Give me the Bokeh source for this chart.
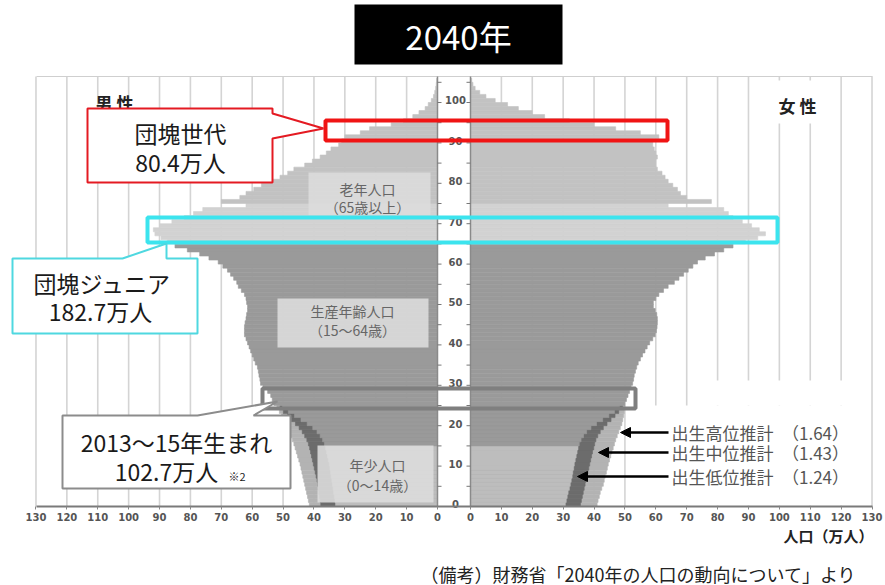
from bokeh.plotting import figure
from bokeh.models import Range1d, FixedTicker, LinearAxis, Arrow, NormalHead, ColumnDataSource
from bokeh.core.properties import value
from bokeh.embed import file_html
from bokeh.resources import INLINE

JP = "Noto Sans CJK JP"

# ---------------- data (万人) ----------------
ages_main = list(range(25, 106))
male_main = [53.0, 53.5, 54.0, 55.0, 56.5, 57.3, 57.5, 57.8, 58.0, 58.3,
             59.0, 59.5, 60.0, 60.5, 61.0, 61.5, 62.0, 62.5, 62.5, 62.5,
             62.3, 62.0, 61.8, 61.5, 61.5, 61.8, 62.0, 62.5, 63.5, 64.5,
             65.0, 66.0, 67.0, 68.0, 69.5, 71.0, 74.0, 77.0, 81.0, 85.0,
             87.5, 89.5, 91.5, 92.0, 90.0, 86.0, 82.0, 79.0, 76.0, 62.0,
             70.0, 64.0, 62.0, 59.5, 57.0, 54.0, 51.0, 48.5, 46.5, 43.0,
             40.5, 38.0, 36.0, 34.5, 32.0, 31.0, 30.0, 25.0, 22.0, 15.0,
             11.0, 8.0, 6.0, 4.0, 3.0, 2.0, 1.3, 0.9, 0.6, 0.4, 0.3]
female_main = [50.0, 50.5, 51.0, 51.5, 52.0, 52.5, 52.8, 53.0, 53.4, 53.8,
               54.3, 55.0, 55.7, 56.5, 57.2, 58.0, 59.0, 59.8, 60.2, 60.4,
               60.5, 60.5, 60.3, 59.8, 59.2, 59.2, 60.0, 61.0, 62.5, 64.0,
               66.0, 67.5, 69.0, 70.5, 72.0, 73.5, 76.0, 79.0, 82.0, 85.0,
               89.0, 93.0, 95.5, 93.5, 91.0, 88.0, 85.0, 83.5, 82.0, 64.0,
               78.0, 70.0, 68.0, 67.0, 65.5, 64.0, 63.0, 62.0, 60.5, 60.0,
               60.0, 60.5, 60.0, 59.5, 59.0, 59.0, 61.0, 55.0, 47.0, 40.0,
               32.0, 24.0, 20.0, 15.5, 12.0, 8.0, 5.0, 3.0, 1.5, 0.8, 0.4]

ages_young = list(range(0, 25))
male_low = [33.0, 33.2, 33.4, 33.6, 33.8, 34.0, 34.2, 34.4, 34.6, 34.8,
            35.0, 35.3, 35.6, 35.9, 36.2, 36.6, 37.2, 38.0, 39.0, 40.4,
            42.2, 44.2, 46.3, 48.3, 50.2]
male_mid = [37.8, 38.0, 38.2, 38.4, 38.6, 38.8, 39.0, 39.3, 39.6, 39.9,
            40.2, 40.5, 40.8, 41.1, 41.4, 41.8, 42.3, 43.0, 43.8, 44.8,
            46.0, 47.3, 48.6, 49.9, 51.0]
male_high = [41.5, 41.8, 42.1, 42.4, 42.7, 43.0, 43.3, 43.6, 43.9, 44.2,
             44.5, 44.9, 45.3, 45.7, 46.1, 46.5, 47.0, 47.5, 48.0, 48.6,
             49.2, 49.8, 50.5, 51.2, 52.0]
female_low = [30.7, 31.0, 31.3, 31.6, 32.0, 32.3, 32.6, 32.9, 33.1, 33.4,
              33.6, 33.9, 34.2, 34.5, 34.8, 35.2, 35.8, 36.6, 37.6, 39.0,
              40.8, 42.8, 44.8, 46.6, 48.2]
female_mid = [35.6, 35.9, 36.2, 36.5, 36.8, 37.1, 37.4, 37.7, 38.0, 38.3,
              38.6, 38.9, 39.2, 39.5, 39.9, 40.2, 40.6, 41.2, 42.0, 43.0,
              44.2, 45.5, 46.8, 48.0, 49.2]
female_high = [41.0, 41.3, 41.7, 42.0, 42.5, 43.0, 43.3, 43.6, 44.0, 44.3,
               44.6, 45.0, 45.4, 45.8, 46.2, 46.6, 47.0, 47.5, 48.0, 48.5,
               49.0, 49.3, 49.6, 49.8, 50.0]

x_tick_values = [0, 10, 20, 30, 40, 50, 60, 70, 80, 90, 100, 110, 120, 130]
age_tick_labels = [0, 10, 20, 30, 40, 50, 60, 70, 80, 90, 100]
scenario_names = ["出生高位推計　（1.64）", "出生中位推計　（1.43）", "出生低位推計　（1.24）"]

# ---------------- geometry helpers ----------------
S = 3.0886          # px per 万人
T = 4.04            # px per year of age
G = 16.5 / S        # half gap of centre strip (data units)


def X(ix):  # picture px -> data x (annotation placement only)
    return (ix - 453.5) / S


def Y(iy):  # picture px -> data y (annotation placement only)
    return (506 - iy) / T


p = figure(width=885, height=585,
           x_range=Range1d(X(0), X(885)), y_range=Range1d(Y(585), Y(0)),
           min_border=0, min_border_left=0, min_border_right=0, min_border_top=0, min_border_bottom=0,
           toolbar_location=None, output_backend="svg",
           x_axis_location=None, y_axis_location=None,
           outline_line_color=None, background_fill_color="white", border_fill_color="white")
p.grid.visible = False

top_age = Y(76)

# grid lines
gx = []
for v in x_tick_values[1:]:
    gx += [-(G + v), G + v]
p.segment(x0=gx, y0=[0] * len(gx), x1=gx, y1=[top_age] * len(gx), line_color="#d4d4d4", line_width=1.6)
p.segment(x0=[X(36)], y0=[top_age], x1=[X(872)], y1=[top_age], line_color="#cfcfcf", line_width=1.2)

# white areas hiding grid behind texts
p.quad(left=[X(640), X(690), X(762)], right=[X(870), X(870), X(828)],
       bottom=[Y(505), Y(405), Y(123)], top=[Y(405), Y(380), Y(80)],
       fill_color="white", line_color=None)


# ---------------- bars ----------------
def base_color(a):
    if a < 15:
        return "#bdbdbd"
    if a < 65:
        return "#9a9a9a"
    if a < 75:
        return "#d2d2d2"
    return "#c2c2c2"


def bars(ages, mvals, fvals, colors):
    L, R, B, Tp, C = [], [], [], [], []
    for a, m, f, c in zip(ages, mvals, fvals, colors):
        L += [-(G + m), G]
        R += [-G, G + f]
        B += [a, a]
        Tp += [a + 1, a + 1]
        C += [c, c]
    src = ColumnDataSource(dict(left=L, right=R, bottom=B, top=Tp, color=C))
    p.quad(left="left", right="right", bottom="bottom", top="top", fill_color="color",
           line_color="color", line_width=0.6, source=src)


bars(ages_young, male_high, female_high, ["#b3b3b3"] * len(ages_young))
bars(ages_young, male_mid, female_mid, ["#6c6c6c"] * len(ages_young))
bars(ages_young, male_low, female_low, [base_color(a) for a in ages_young])
bars(ages_main, male_main, female_main, [base_color(a) for a in ages_main])

# centre strip
p.segment(x0=[-G, G], y0=[0, 0], x1=[-G, G], y1=[top_age, top_age], line_color="#8a8a8a", line_width=1.5)
tk = list(range(0, 106, 5))
p.segment(x0=[-G] * len(tk), y0=tk, x1=[-G + 4 / S] * len(tk), y1=tk, line_color="#777", line_width=1)
p.segment(x0=[G - 4 / S] * len(tk), y0=tk, x1=[G] * len(tk), y1=tk, line_color="#777", line_width=1)
p.text(x=[X(455)] * len(age_tick_labels), y=[a + 0.5 for a in age_tick_labels],
       text=[str(a) for a in age_tick_labels], text_font=value("DejaVu Sans"),
       text_font_size="10px", text_font_style="bold", text_color="#555",
       text_align="center", text_baseline="middle")

# axis line
p.segment(x0=[X(36)], y0=[0], x1=[X(872)], y1=[0], line_color="#7a7a7a", line_width=2)

# region label boxes
p.quad(left=[X(308), X(277), X(317)], right=[X(430), X(428), X(433)],
       bottom=[Y(215), Y(347), Y(502)], top=[Y(172), Y(298), Y(445)],
       fill_color="#dcdcdc", fill_alpha=0.9, line_color=None)
p.text(x=[X(367), X(367), X(352), X(352), X(377), X(377)],
       y=[Y(188), Y(206), Y(310), Y(329), Y(464), Y(484)],
       text=["老年人口", "（65歳以上）", "生産年齢人口", "（15〜64歳）", "年少人口", "（0〜14歳）"],
       text_font=value(JP), text_font_size="14px", text_color="#666",
       text_align="center", text_baseline="middle")

# 男性 / 女性
p.text(x=[X(114), X(797)], y=[Y(102), Y(105)], text=["男 性", "女 性"], text_font=value(JP),
       text_font_size="17px", text_font_style="bold", text_color="#222",
       text_align="center", text_baseline="middle")

# highlight boxes
p.quad(left=[X(325)], right=[X(667)], bottom=[Y(140)], top=[Y(120)], fill_alpha=0,
       line_color="#f01414", line_width=4)
p.quad(left=[X(147)], right=[X(777)], bottom=[Y(242)], top=[Y(217)], fill_alpha=0,
       line_color="#3ce4ee", line_width=4)
p.quad(left=[X(262)], right=[X(635)], bottom=[Y(408)], top=[Y(388)], fill_alpha=0,
       line_color="#7f7f7f", line_width=4)


# callouts
def callout(pts, color):
    p.patch(x=[X(a) for a, b in pts], y=[Y(b) for a, b in pts], fill_color="white",
            line_color=color, line_width=2)


callout([(87, 108), (272, 108), (272, 113), (323, 128), (272, 138), (272, 182), (87, 182)], "#e41a22")
callout([(12, 258), (122, 258), (166, 243), (166, 258), (197, 258), (197, 333), (12, 333)], "#4fd8e0")
callout([(62, 415), (197, 415), (277, 401), (253, 415), (290, 415), (290, 488), (62, 488)], "#8c8c8c")

p.text(x=[X(180), X(180), X(102), X(100), X(176), X(166)],
       y=[Y(132), Y(161), Y(282), Y(310), Y(441), Y(470)],
       text=["団塊世代", "80.4万人", "団塊ジュニア", "182.7万人", "2013〜15年生まれ", "102.7万人"],
       text_font=value(JP), text_font_size="23px", text_color="#1a1a1a",
       text_align="center", text_baseline="middle")
p.text(x=[X(228)], y=[Y(475)], text=["※2"], text_font=value(JP), text_font_size="11px",
       text_color="#1a1a1a", text_align="left", text_baseline="middle")

# scenario arrows and names
arrow_y = [432, 452, 476]
arrow_tip = [620, 598, 577]
for yy, tip in zip(arrow_y, arrow_tip):
    p.add_layout(Arrow(end=NormalHead(size=10, fill_color="black", line_color="black"),
                       x_start=X(668), y_start=Y(yy), x_end=X(tip), y_end=Y(yy),
                       line_color="black", line_width=2.5))
p.text(x=[X(671)] * 3, y=[Y(v) for v in arrow_y], text=scenario_names, text_font=value(JP),
       text_font_size="17px", text_color="#555", text_align="left", text_baseline="middle")

# title
p.quad(left=[X(354)], right=[X(562)], bottom=[Y(64)], top=[Y(4)], fill_color="black", line_color=None)
p.text(x=[X(458)], y=[Y(35)], text=["2040年"], text_font=value(JP), text_font_size="33px",
       text_color="white", text_align="center", text_baseline="middle")

# axis unit and source note
p.text(x=[X(873), X(856)], y=[Y(535), Y(573)],
       text=["人口（万人）", "（備考）財務省「2040年の人口の動向について」より"],
       text_font=value(JP), text_font_size=["15px", "18px"], text_font_style=["bold", "normal"],
       text_color=["#222", "#222"], text_align="right", text_baseline="middle")

# bottom axis (fixed at age 0)
ticks, overrides = [], {}
for v in x_tick_values:
    for pos in (round(-(G + v), 3), round(G + v, 3)):
        ticks.append(pos)
        overrides[pos] = str(v)
ax = LinearAxis(fixed_location=0, ticker=FixedTicker(ticks=ticks))
ax.major_label_overrides = overrides
ax.axis_line_color = None
ax.major_tick_line_color = "#888"
ax.major_tick_out = 3
ax.major_tick_in = 0
ax.minor_tick_line_color = None
ax.major_label_standoff = 3
ax.major_label_text_font = "DejaVu Sans"
ax.major_label_text_font_size = "10px"
ax.major_label_text_font_style = "bold"
ax.major_label_text_color = "#555"
p.add_layout(ax, "below")

open("out.html", "w").write(file_html(p, INLINE))
